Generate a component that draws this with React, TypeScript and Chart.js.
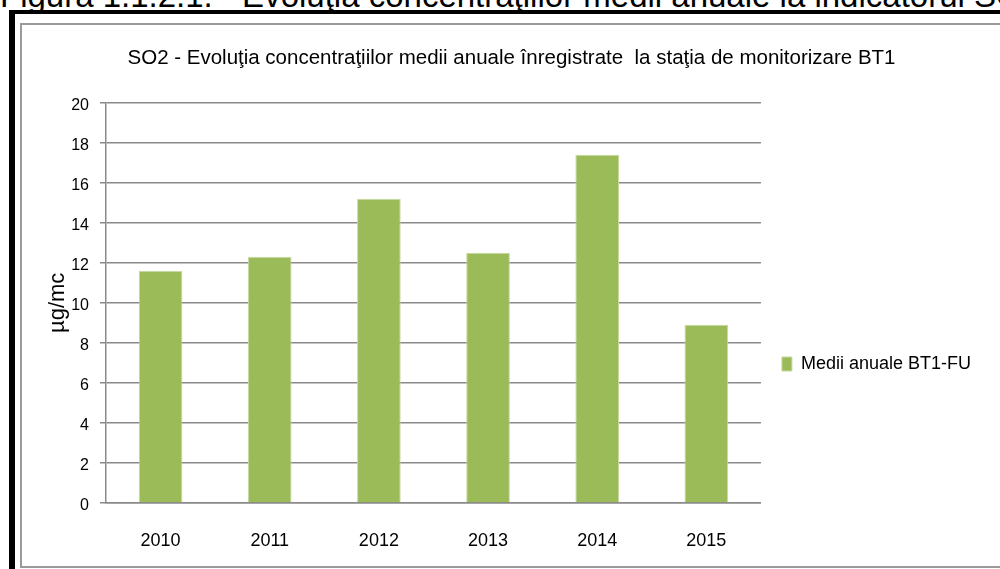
import React, { useEffect, useRef } from 'react';
import { Chart, registerables } from 'chart.js';

Chart.register(...registerables);

const categories = ['2010', '2011', '2012', '2013', '2014', '2015'];
const seriesValues = [11.6, 12.3, 15.2, 12.5, 17.4, 8.9];
const seriesName = 'Medii anuale BT1-FU';
const yTickValues = [0, 2, 4, 6, 8, 10, 12, 14, 16, 18, 20];
const chartTitle = 'SO2 - Evoluţia concentraţiilor medii anuale înregistrate  la staţia de monitorizare BT1';
const yAxisTitle = 'µg/mc';
const captionText = 'Figura 1.1.2.1. - Evoluţia concentraţiilor medii anuale la indicatorul SO2';

const SANS = '"Liberation Sans", Arial, sans-serif';

export default function App() {
  const canvasRef = useRef<HTMLCanvasElement | null>(null);

  useEffect(() => {
    if (!canvasRef.current) return;
    const chart = new Chart(canvasRef.current, {
      type: 'bar',
      data: {
        labels: categories,
        datasets: [
          {
            label: seriesName,
            data: seriesValues,
            backgroundColor: '#9BBB59',
            borderColor: '#C6D9A0',
            borderWidth: 1,
            barPercentage: 0.4,
            categoryPercentage: 1,
          },
        ],
      },
      options: {
        animation: false,
        responsive: false,
        devicePixelRatio: 1,
        layout: { padding: { left: 22, top: 25, right: 0, bottom: 5 } },
        plugins: {
          tooltip: { enabled: false },
          title: {
            display: true,
            text: chartTitle,
            color: '#000',
            font: { family: SANS, size: 20.5, weight: 'normal' },
            padding: { top: 21, bottom: 32 },
          },
          legend: {
            display: true,
            position: 'right',
            align: 'center',
            title: { display: true, text: ' ', padding: { top: 124.6, bottom: 0 }, font: { size: 12 } },
            labels: {
              boxWidth: 10,
              boxHeight: 14,
              padding: 21,
              color: '#000',
              font: { family: SANS, size: 18 },
              generateLabels: (c: any) =>
                Chart.defaults.plugins.legend.labels
                  .generateLabels(c)
                  .map((l: any) => ({ ...l, text: l.text + '    ' })),
            },
          },
        },
        scales: {
          x: {
            grid: { display: false, drawTicks: false },
            border: { display: true, color: '#8a8a8a', width: 1.5 },
            ticks: {
              color: '#000',
              padding: 27,
              font: { family: SANS, size: 18 },
            },
            afterFit: (s: any) => {
              s.height = 61;
            },
          },
          y: {
            min: 0,
            max: 20,
            afterBuildTicks: (s: any) => {
              s.ticks = yTickValues.map((v) => ({ value: v }));
            },
            grid: { color: '#8a8a8a', lineWidth: 1.5, tickLength: 6, drawTicks: true },
            border: { display: true, color: '#8a8a8a', width: 1.5 },
            ticks: {
              color: '#000',
              padding: 11,
              labelOffset: 3,
              font: { family: SANS, size: 16 },
            },
            title: {
              display: true,
              text: yAxisTitle,
              color: '#000',
              font: { family: SANS, size: 22 },
              padding: { top: 23, bottom: 0 },
            },
            afterFit: (s: any) => {
              s.width = 84;
            },
          },
        },
      },
    });
    return () => chart.destroy();
  }, []);

  return (
    <div
      style={{
        position: 'absolute',
        left: 0,
        top: 0,
        width: 1000,
        height: 569,
        overflow: 'hidden',
        background: '#fff',
      }}
    >
      <div
        style={{
          position: 'absolute',
          left: 0,
          top: -21,
          fontFamily: SANS,
          fontSize: 33,
          lineHeight: '33px',
          whiteSpace: 'nowrap',
          color: '#000',
        }}
      >
        {captionText}
      </div>
      <div style={{ position: 'absolute', left: 9, top: 10, width: 991, height: 4, background: '#000' }} />
      <div style={{ position: 'absolute', left: 9, top: 10, width: 6, height: 559, background: '#000' }} />
      <div
        style={{
          position: 'absolute',
          left: 20,
          top: 23,
          width: 1000,
          height: 541,
          borderTop: '2px solid #9a9a9a',
          borderLeft: '2px solid #9a9a9a',
          borderBottom: '2px solid #9a9a9a',
        }}
      />
      <canvas
        ref={canvasRef}
        width={1001}
        height={569}
        style={{ position: 'absolute', left: 0, top: 0, width: 1001, height: 569 }}
      />
    </div>
  );
}
